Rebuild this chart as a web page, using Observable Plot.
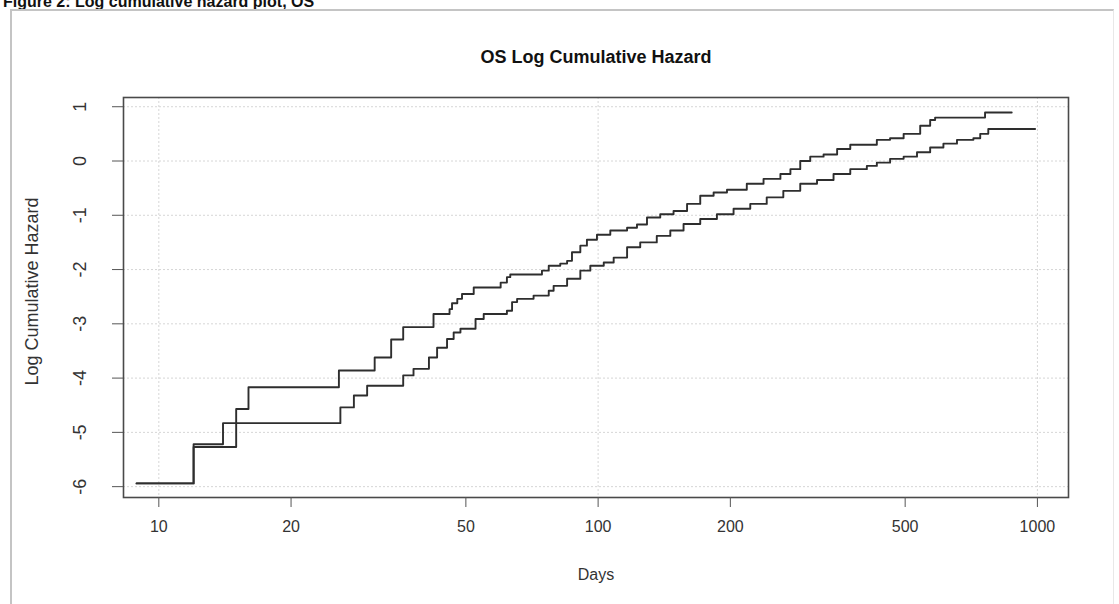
<!DOCTYPE html>
<html><head><meta charset="utf-8">
<script src="https://cdn.jsdelivr.net/npm/d3@7"></script>
<script src="https://cdn.jsdelivr.net/npm/@observablehq/plot@0.6"></script>
<style>
body{margin:0;background:#fff;font-family:Arial,"Liberation Sans",sans-serif;}
#wrap{position:relative;width:1119px;height:604px;overflow:hidden;background:#fff;}
#heading{position:absolute;left:3px;top:-6px;font-weight:bold;font-size:16px;line-height:16px;white-space:nowrap;color:#111;}
#border{position:absolute;left:10px;top:9px;width:1104px;height:600px;border-left:2px solid #c4c4c4;border-top:2px solid #c4c4c4;border-right:1px solid #e8e8e8;box-sizing:border-box;}
#chart{position:absolute;left:0;top:0;}
</style></head><body>
<div id="wrap">
  <div id="heading">Figure 2: Log cumulative hazard plot, OS</div>
  <div id="border"></div>
  <div id="chart"></div>
</div>
<script>
// Upper curve (step-after: level starting at each day)
const upperDays = [8.9, 12, 15, 16, 25.7, 31, 33.8, 36, 42.2, 45.9, 46.5, 47.8, 49, 52.1, 60, 62, 63.1, 74.5, 77.2, 82, 85, 87.2, 91.1, 94.3, 99.4, 106.6, 116.4, 122.6, 129.2, 138.5, 148.5, 159.4, 170.8, 183.2, 196.5, 218, 238, 260, 274, 288.5, 304, 326, 350, 375, 431, 462, 496, 541, 570, 585, 760, 874];
const upperHaz = [-5.94, -5.27, -4.57, -4.17, -3.86, -3.62, -3.29, -3.06, -2.82, -2.73, -2.62, -2.54, -2.45, -2.33, -2.24, -2.14, -2.09, -2.02, -1.93, -1.89, -1.84, -1.68, -1.56, -1.45, -1.36, -1.28, -1.23, -1.17, -1.04, -0.98, -0.92, -0.79, -0.64, -0.58, -0.53, -0.42, -0.33, -0.24, -0.15, 0.0, 0.08, 0.12, 0.22, 0.30, 0.39, 0.42, 0.50, 0.65, 0.755, 0.80, 0.895, 0.895];
// Lower curve
const lowerDays = [8.9, 12, 14, 25.9, 27.8, 29.8, 36, 38, 41.2, 43, 45.3, 46.9, 48.6, 52.6, 54.9, 62, 63.7, 65.4, 71.3, 77.2, 79.2, 85, 91.1, 96, 103, 108.5, 116.4, 124.7, 136, 146, 156.5, 170.8, 186.4, 203.4, 222, 242, 264, 288.5, 315, 343.5, 375, 409, 431, 462, 496, 532, 570, 611, 656, 715, 741, 773, 988];
const lowerHaz = [-5.94, -5.22, -4.83, -4.54, -4.32, -4.14, -3.95, -3.83, -3.62, -3.44, -3.28, -3.16, -3.09, -2.91, -2.82, -2.76, -2.60, -2.54, -2.48, -2.39, -2.30, -2.17, -2.02, -1.93, -1.87, -1.78, -1.59, -1.50, -1.38, -1.28, -1.16, -1.07, -0.98, -0.88, -0.79, -0.67, -0.55, -0.42, -0.35, -0.24, -0.15, -0.09, -0.03, 0.04, 0.08, 0.16, 0.25, 0.32, 0.39, 0.42, 0.50, 0.59, 0.59];

const xTicks = [10, 20, 50, 100, 200, 500, 1000];
const yTicks = [1, 0, -1, -2, -3, -4, -5, -6];
const xGrid = [10, 100, 1000];

const titleText = "OS Log Cumulative Hazard";
const xLabel = "Days";
const yLabel = "Log Cumulative Hazard";

const upper = upperDays.map((d, i) => ({day: d, haz: upperHaz[i]}));
const lower = lowerDays.map((d, i) => ({day: d, haz: lowerHaz[i]}));

const font = "Arial, 'Liberation Sans', sans-serif";
const chart = Plot.plot({
  width: 1119,
  height: 604,
  marginLeft: 123,
  marginRight: 51,
  marginTop: 97,
  marginBottom: 107,
  style: {background: "transparent", fontFamily: font, color: "#333"},
  x: {type: "log", domain: [8.31, 1177], axis: null},
  y: {domain: [-6.2, 1.17], axis: null},
  marks: [
    Plot.ruleY(yTicks, {stroke: "#d6d6d6", strokeDasharray: "2,2"}),
    Plot.ruleX(xGrid, {stroke: "#d6d6d6", strokeDasharray: "2,2"}),
    Plot.line(lower, {x: "day", y: "haz", curve: "step-after", stroke: "#2e2e2e", strokeWidth: 1.9}),
    Plot.line(upper, {x: "day", y: "haz", curve: "step-after", stroke: "#2e2e2e", strokeWidth: 1.9}),
    Plot.frame({stroke: "#4a4a4a", strokeWidth: 1.6}),
    Plot.axisX(xTicks, {anchor: "bottom", tickSize: 10, tickPadding: 13, tickFormat: d => String(d), label: null, fontSize: 16, stroke: "#555"}),
    Plot.axisY(yTicks, {anchor: "left", tickSize: 11, tickFormat: () => "", label: null, stroke: "#555"}),
    Plot.text(yTicks, {y: d => d, text: d => String(d), frameAnchor: "left", textAnchor: "middle", lineAnchor: "middle", dx: -43, rotate: -90, fontSize: 18, fill: "#333"}),
    Plot.text([xLabel], {frameAnchor: "bottom", textAnchor: "middle", lineAnchor: "middle", dy: 77, fontSize: 16, fill: "#333"}),
    Plot.text([yLabel], {frameAnchor: "left", textAnchor: "middle", lineAnchor: "middle", dx: -91, dy: -6, rotate: -90, fontSize: 18, fill: "#333"}),
    Plot.text([titleText], {frameAnchor: "top", textAnchor: "middle", lineAnchor: "middle", dy: -40, fontSize: 18, fontWeight: "bold", fill: "#111"})
  ]
});
document.getElementById("chart").appendChild(chart);
</script>
</body></html>
